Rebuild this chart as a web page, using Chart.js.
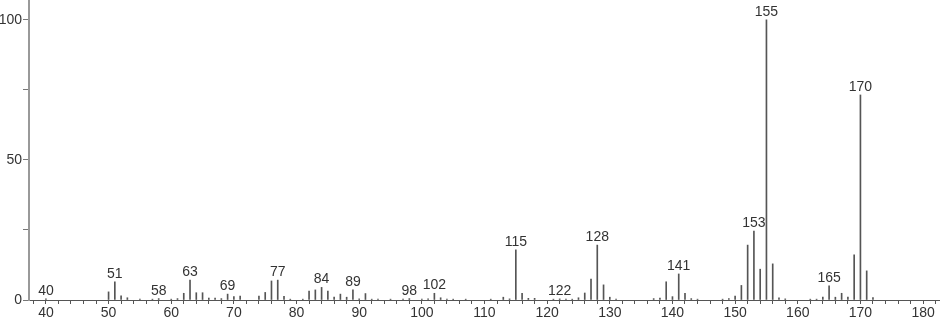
<!DOCTYPE html>
<html>
<head>
<meta charset="utf-8">
<script src="https://cdn.jsdelivr.net/npm/chart.js@4.4.1/dist/chart.umd.min.js"></script>
<style>
  html, body { margin: 0; padding: 0; background: #fff; }
  #wrap { width: 940px; height: 322px; position: relative; }
</style>
</head>
<body>
<div id="wrap"><canvas id="spectrum"></canvas></div>
<script>
// m/z and relative intensity
const mz = [40, 50, 51, 52, 53, 55, 57, 58, 60, 61, 62, 63, 64, 65, 66, 67, 68, 69, 70, 71,
    74, 75, 76, 77, 78, 79, 81, 82, 83, 84, 85, 86, 87, 88, 89, 90, 91, 92, 93, 95, 97, 98,
    100, 101, 102, 103, 104, 105, 107, 111, 113, 114, 115, 116, 117, 118, 121, 122, 123, 124,
    125, 126, 127, 128, 129, 130, 131, 137, 138, 139, 140, 141, 142, 143, 144, 148, 149, 150,
    151, 152, 153, 154, 155, 156, 157, 158, 162, 163, 164, 165, 166, 167, 168, 169, 170, 171, 172];
const intensity = [0.4, 2.9, 6.5, 1.5, 0.8, 0.3, 0.3, 0.5, 0.3, 0.5, 2.4, 7.1, 2.6, 2.6, 0.7, 0.7, 0.5, 2.1, 1.2, 1.4,
    1.4, 2.7, 6.8, 7.1, 1.3, 0.3, 0.3, 3.2, 3.6, 4.5, 3.2, 1.0, 2.1, 1.0, 3.6, 0.4, 2.3, 0.3, 0.3, 0.3, 0.3, 0.5,
    0.3, 0.4, 2.4, 0.8, 0.3, 0.3, 0.3, 0.3, 1.0, 0.4, 17.9, 2.4, 0.6, 0.6, 0.3, 0.4, 0.3, 0.3,
    0.8, 2.5, 7.5, 19.6, 5.4, 1.0, 0.3, 0.5, 0.7, 6.5, 1.2, 9.3, 2.4, 0.5, 0.3, 0.3, 0.5, 1.4,
    5.2, 19.6, 24.6, 11.0, 100, 12.9, 0.8, 0.4, 0.3, 0.3, 1.0, 5.1, 1.0, 2.4, 1.0, 16.1, 73.2, 10.4, 0.9];

// peaks that carry a number above them
const labelledPeaks = [40, 51, 58, 63, 69, 77, 84, 89, 98, 102, 115, 122, 128, 141, 153, 155, 165, 170];

const xTickLabels = [40, 50, 60, 70, 80, 90, 100, 110, 120, 130, 140, 150, 160, 170, 180];
const yTickLabels = [0, 50, 100];

const FONT = '"Liberation Sans", Arial, sans-serif';

const peakLabels = {
    id: 'peakLabels',
    afterDatasetsDraw(chart) {
        const { ctx, scales } = chart;
        ctx.save();
        ctx.font = '14px ' + FONT;
        ctx.fillStyle = '#333';
        ctx.textAlign = 'center';
        ctx.textBaseline = 'alphabetic';
        labelledPeaks.forEach(m => {
            const i = mz.indexOf(m);
            if (i < 0) return;
            const x = scales.x.getPixelForValue(m);
            const y = scales.y.getPixelForValue(intensity[i]);
            ctx.fillText(String(m), x, y - 4);
        });
        ctx.restore();
    }
};

new Chart(document.getElementById('spectrum'), {
    type: 'bar',
    data: {
        datasets: [{
            data: mz.map((m, i) => ({ x: m, y: intensity[i] })),
            backgroundColor: '#555',
            borderWidth: 0,
            barThickness: 1,
            grouped: false
        }]
    },
    options: {
        responsive: true,
        maintainAspectRatio: false,
        animation: false,
        layout: { padding: 0 },
        plugins: { legend: { display: false }, tooltip: { enabled: false } },
        scales: {
            x: {
                type: 'linear',
                offset: false,
                min: 37.3,
                max: 182.7,
                afterBuildTicks: s => {
                    const t = [];
                    for (let v = 38; v <= 182; v += 2) t.push({ value: v });
                    s.ticks = t;
                },
                afterFit: s => {
                    s.height = 22;
                    s.paddingLeft = 0;
                    s.paddingRight = 0;
                },
                grid: { offset: false, drawOnChartArea: false, tickLength: 4, tickColor: '#555' },
                border: { color: '#555', width: 1 },
                ticks: {
                    autoSkip: false,
                    maxRotation: 0,
                    padding: 1,
                    color: '#333',
                    font: { family: FONT, size: 14 },
                    callback: v => xTickLabels.includes(v) ? String(v) : ''
                }
            },
            y: {
                min: 0,
                max: 107.1,
                afterBuildTicks: s => {
                    s.ticks = [0, 25, 50, 75, 100].map(v => ({ value: v }));
                },
                afterFit: s => {
                    s.width = 29;
                    s.paddingTop = 0;
                    s.paddingBottom = 0;
                },
                grid: { drawOnChartArea: false, tickLength: 6, tickColor: '#777' },
                border: { color: '#999', width: 2 },
                ticks: {
                    padding: 1,
                    color: '#333',
                    font: { family: FONT, size: 14 },
                    callback: v => yTickLabels.includes(v) ? String(v) : ''
                }
            }
        }
    },
    plugins: [peakLabels]
});
</script>
</body>
</html>
